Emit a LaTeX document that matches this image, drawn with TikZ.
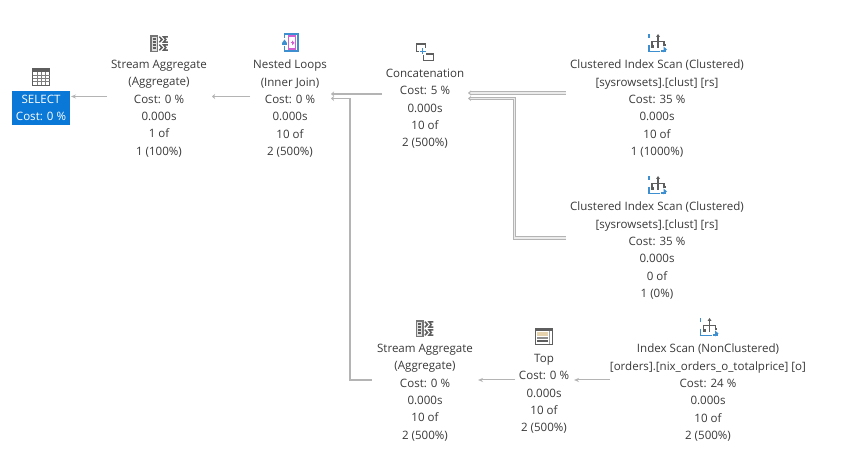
\documentclass[tikz,border=0pt]{standalone}
\usepackage{fontspec}
\setmainfont{Open Sans}
\usetikzlibrary{arrows.meta}
\definecolor{selblue}{HTML}{0A78D7}
\definecolor{txt}{HTML}{3A3A3A}
\definecolor{edge}{HTML}{B4B4B4}
\definecolor{icong}{HTML}{5E5E5E}
\definecolor{iconb}{HTML}{3D8FD0}
\definecolor{iconm}{HTML}{D060D0}
\definecolor{tan}{HTML}{E6D3AE}
\tikzset{
  x=1bp,y=-1bp,
  opfont/.style={font=\fontsize{11.55bp}{17.3bp}\selectfont},
  op/.style={align=center,text=txt,opfont,inner sep=0pt,anchor=north},
  flow/.style={draw=edge,line width=1bp,-{Stealth[length=5bp,width=4bp]}},
  heavyflow/.style={draw=edge,line width=1.8bp,-{Stealth[length=3bp,width=5bp]}},
  midflow/.style={draw=edge,line width=1.2bp,-{Stealth[length=3bp,width=5bp]}},
  dblflow/.style={draw=edge,line width=1.1bp,double=black!8,double distance=1.2bp,-{Stealth[length=3bp,width=5bp]}},
  ig/.style={draw=icong,line width=1bp},
  ib/.style={draw=iconb,line width=1bp},
}
\newcommand{\aggicon}[2]{\begin{scope}[shift={(#1,#2)}]
  \draw[icong!85,line width=1.7bp,fill=black!12] (0.9,0.9) rectangle (7.6,16.6);
  \foreach \y in {4,7,10,13} \draw[icong,line width=1.3bp] (2.6,\y) -- (5.9,\y);
  \foreach \y in {4.5,12.5} {
    \draw[icong,line width=1.5bp] (9.3,\y-2.8) -- (12,\y) -- (9.3,\y+2.8);
    \draw[icong,line width=1.5bp] (17.8,\y-2.6) -- (13.6,\y-2.6) -- (15.8,\y) -- (13.6,\y+2.6) -- (17.8,\y+2.6);
  }
\end{scope}}
\newcommand{\scanicon}[2]{\begin{scope}[shift={(#1,#2)}]
  \draw[ib,line width=1.2bp] (1,0.5) -- (1,4);
  \draw[ib,line width=1.2bp] (1,11) -- (1,17.5) -- (12,17.5);
  \draw[icong,line width=1.3bp] (10,1) -- (10,14);
  \draw[icong,line width=1.3bp] (4,12) -- (4,7.5) -- (16,7.5) -- (16,12);
  \fill[icong] (10,0) -- (12,3) -- (8,3) -- cycle;
  \fill[icong] (3,11) rectangle (6,14);
  \fill[icong] (15,10) rectangle (17.5,12.5);
  \fill[iconb] (13,16.5) rectangle (18,18.5);
  \fill[iconb] (15.5,12.5) -- (19,15.5) -- (15.5,18.5) -- cycle;
\end{scope}}
\begin{document}
\begin{tikzpicture}
\useasboundingbox (0,0) rectangle (867,470);
\fill[white] (0,0) rectangle (867,470);
% SELECT
\node[fill=selblue,text=white,minimum width=58bp,minimum height=34.5bp,inner sep=0pt,align=center,opfont] (sel) at (41,107.8) {SELECT\\Cost: 0 \%};
\draw[icong,line width=1bp,fill=white] (32.5,69) rectangle (49.5,85.5);
\fill[icong] (32,68.5) rectangle (50,72.5);
\foreach \x in {37,41,45} \draw[icong!80,line width=.8bp] (\x,72.5) -- (\x,85.5);
\foreach \y in {75.5,78.5,81.5} \draw[icong!80,line width=.8bp] (32.5,\y) -- (49.5,\y);
% nodes
\node[op] (sa1) at (159,60) {Stream Aggregate\\(Aggregate)\\Cost: 0 \%\\0.000s\\1 of\\1 (100\%)};
\node[op] (nl) at (290,60) {Nested Loops\\(Inner Join)\\Cost: 0 \%\\0.000s\\10 of\\2 (500\%)};
\node[op] (cc) at (425,69) {Concatenation\\Cost: 5 \%\\0.000s\\10 of\\2 (500\%)};
\node[op] (cs1) at (657,60) {Clustered Index Scan (Clustered)\\{[sysrowsets].[clust] [rs]}\\Cost: 35 \%\\0.000s\\10 of\\1 (1000\%)};
\node[op] (cs2) at (657,202) {Clustered Index Scan (Clustered)\\{[sysrowsets].[clust] [rs]}\\Cost: 35 \%\\0.000s\\0 of\\1 (0\%)};
\node[op] (sa2) at (425,344) {Stream Aggregate\\(Aggregate)\\Cost: 0 \%\\0.000s\\10 of\\2 (500\%)};
\node[op] (top) at (544,354) {Top\\Cost: 0 \%\\0.000s\\10 of\\2 (500\%)};
\node[op] (is) at (708,344) {Index Scan (NonClustered)\\{[orders].[nix\_orders\_o\_totalprice] [o]}\\Cost: 24 \%\\0.000s\\10 of\\2 (500\%)};
% icons
\aggicon{150}{35}
\aggicon{415.5}{320}
\scanicon{648}{34}
\scanicon{648}{176}
\scanicon{699.5}{318}
% nested loops icon
\draw[iconb,line width=1.2bp] (284.5,38) -- (284.5,34) -- (298,34) -- (298,51) -- (284.5,51) -- (284.5,46);
\draw[iconm,line width=1.1bp] (288.5,36) rectangle (295.5,49);
\draw[iconm,line width=1bp] (290.5,43) -- (292.5,43);
\fill[iconm] (294.5,43) -- (292,40.5) -- (292,45.5) -- cycle;
\fill[iconb] (284.5,39.5) -- (282,43) -- (287,43) -- cycle;
\fill[iconb] (282,43) rectangle (287,45);
% concatenation icon
\draw[ig] (416,43.5) rectangle (425,51.5);
\fill[icong] (415.5,43) rectangle (425.5,45.5);
\draw[ig] (423,53.5) rectangle (433,60.5);
\fill[icong] (422.5,53) rectangle (433.5,55.5);
\fill[white] (419,48) rectangle (426,55);
\draw[iconb,line width=1.6bp] (419.5,51.5) -- (425.5,51.5) (422.5,48.5) -- (422.5,54.5);
% top icon
\draw[icong,line width=1.2bp] (535.6,328.6) rectangle (552.4,344.4);
\fill[icong] (535,328) rectangle (553,331);
\fill[tan] (537,332) rectangle (548,336);
\fill[icong!70] (537,337.5) rectangle (548,339);
\fill[icong] (537,340.5) rectangle (548,342);
\draw[icong!60,line width=.8bp] (549.5,331) -- (549.5,344);
% connectors
\coordinate (a1) at (107,96.5); \coordinate (a2) at (71,96.5);
\coordinate (b1) at (250,96.5); \coordinate (b2) at (212,96.5);
\coordinate (c1) at (382,94); \coordinate (c2) at (331,94);
\coordinate (d1) at (566,93); \coordinate (d2) at (468,93);
\coordinate (e1) at (566,238); \coordinate (e2) at (514.5,238); \coordinate (e3) at (514.5,98.5); \coordinate (e4) at (468,98.5);
\coordinate (f1) at (372,380); \coordinate (f2) at (350,380); \coordinate (f3) at (350,98.5); \coordinate (f4) at (331,98.5);
\coordinate (g1) at (515,380); \coordinate (g2) at (478,380);
\coordinate (h1) at (610,380); \coordinate (h2) at (574,380);
\draw[flow] (a1) -- (a2);
\draw[midflow] (b1) -- (b2);
\draw[heavyflow] (c1) -- (c2);
\draw[midflow] (f1) -- (f2) -- (f3) -- (f4);
\draw[dblflow] (d1) -- (d2);
\draw[dblflow] (e1) -- (e2) -- (e3) -- (e4);
\draw[flow] (g1) -- (g2);
\draw[flow] (h1) -- (h2);
\end{tikzpicture}
\end{document}
